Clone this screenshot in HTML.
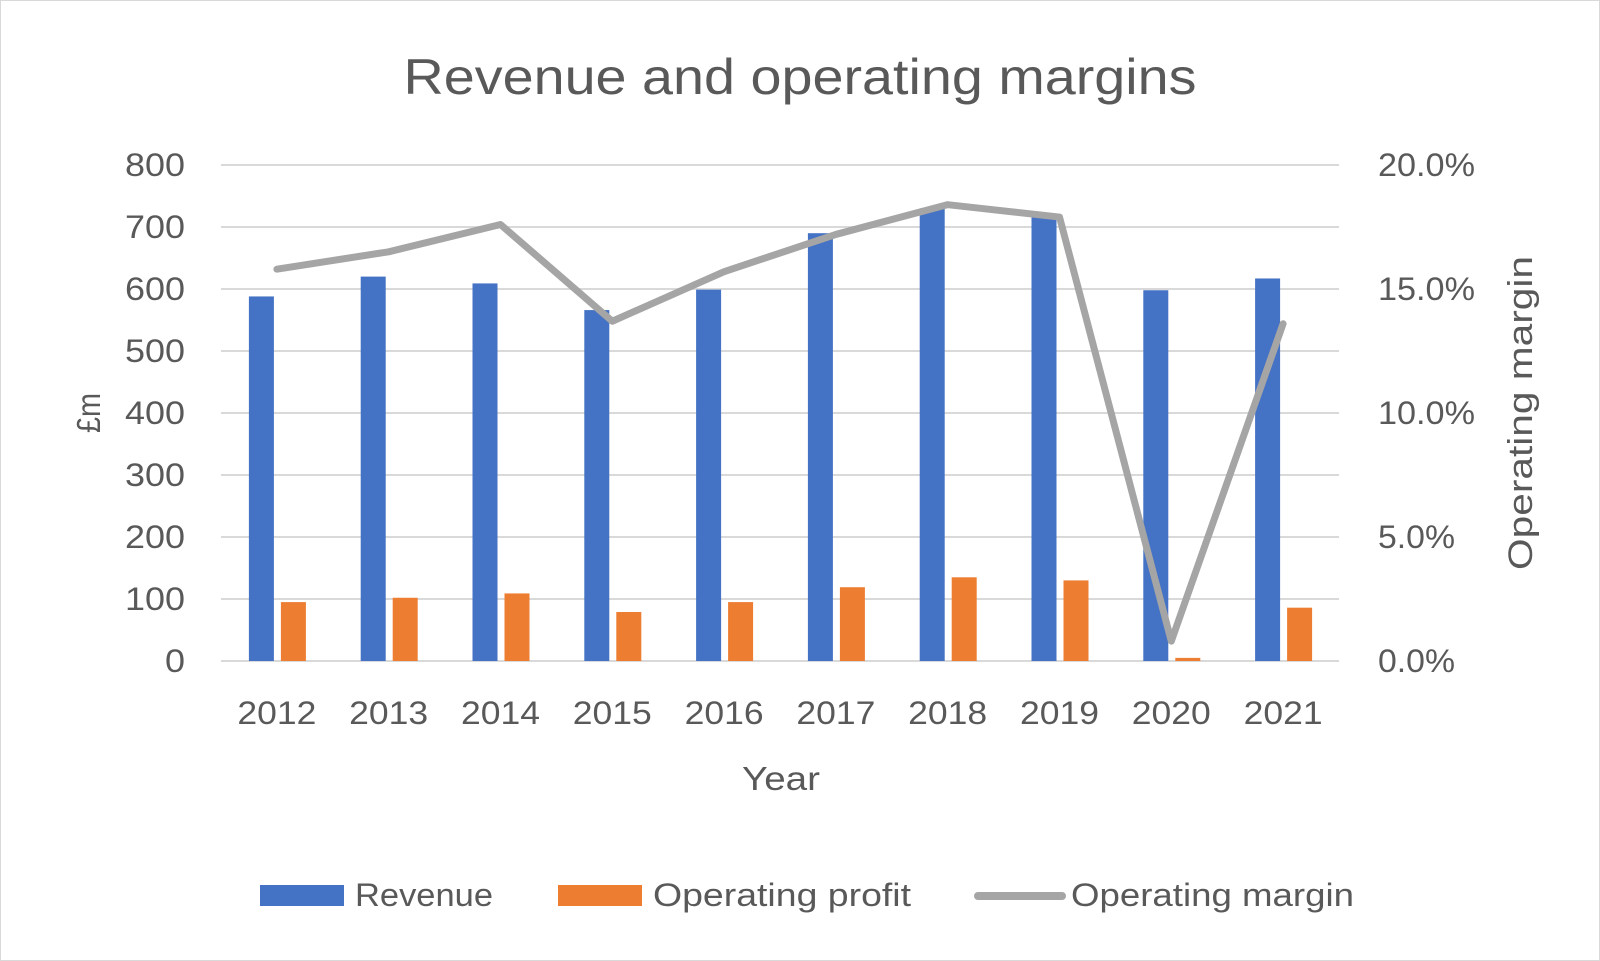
<!DOCTYPE html>
<html><head><meta charset="utf-8"><style>
html,body{margin:0;padding:0;background:#fff;}
svg{display:block;font-family:"Liberation Sans","DejaVu Sans",sans-serif;}
</style></head><body>
<svg id="chart" width="1600" height="961" viewBox="0 0 1600 961">
<rect x="0.5" y="0.5" width="1599" height="960" fill="#fff" stroke="#d9d9d9"/>
<text x="800" y="94" text-anchor="middle" font-size="50" fill="#595959" textLength="793" lengthAdjust="spacingAndGlyphs">Revenue and operating margins</text>
<g id="grid"></g><g id="bars"></g><g id="line"></g><g id="ticks"></g>
<text transform="translate(100,413) rotate(-90)" text-anchor="middle" font-size="33" fill="#595959" textLength="40" lengthAdjust="spacingAndGlyphs">£m</text>
<text transform="translate(1532,413) rotate(-90)" text-anchor="middle" font-size="34" fill="#595959" textLength="314" lengthAdjust="spacingAndGlyphs">Operating margin</text>
<text x="781" y="790" text-anchor="middle" font-size="33" fill="#595959" textLength="78" lengthAdjust="spacingAndGlyphs">Year</text>
<g>
<rect x="260" y="885" width="84" height="21" fill="#4472c4"/>
<text x="355" y="906" font-size="32" fill="#595959" textLength="138" lengthAdjust="spacingAndGlyphs">Revenue</text>
<rect x="558" y="885" width="84" height="21" fill="#ed7d31"/>
<text x="653" y="906" font-size="32" fill="#595959" textLength="258" lengthAdjust="spacingAndGlyphs">Operating profit</text>
<line x1="978" y1="896" x2="1062" y2="896" stroke="#a5a5a5" stroke-width="8" stroke-linecap="round"/>
<text x="1071" y="906" font-size="32" fill="#595959" textLength="283" lengthAdjust="spacingAndGlyphs">Operating margin</text>
</g>
</svg>
<script>
const years=["2012","2013","2014","2015","2016","2017","2018","2019","2020","2021"];
const revenue=[588,620,609,566,599,690,730,718,598,617];
const profit=[95,102,109,79,95,119,135,130,5,86];
const margin=[15.8,16.5,17.6,13.7,15.7,17.2,18.4,17.9,0.8,13.6];
const leftTicks=[0,100,200,300,400,500,600,700,800];
const rightTicks=["0.0%","5.0%","10.0%","15.0%","20.0%"];
const NS="http://www.w3.org/2000/svg";
const X0=221,X1=1339,Y0=661,Y1=165;
const band=(X1-X0)/years.length;
const yL=v=>Y0-(v/800)*(Y0-Y1);
const yR=v=>Y0-(v/20)*(Y0-Y1);
const xC=i=>X0+band*(i+0.5);
function mk(tag,attrs,parent){const e=document.createElementNS(NS,tag);for(const k in attrs)e.setAttribute(k,attrs[k]);document.getElementById(parent).appendChild(e);return e;}
leftTicks.forEach((t,i)=>{
 const g=mk('line',{x1:X0,x2:X1,y1:yL(t),y2:yL(t),stroke:'#d9d9d9','stroke-width':2},'grid');
 
 
 const s=String(t);
 const tx=mk('text',{x:185,y:yL(t)+11,'text-anchor':'end','font-size':32,fill:'#595959',textLength:s.length*20,lengthAdjust:'spacingAndGlyphs'},'ticks');
 tx.textContent=s;
 
 
});
rightTicks.forEach((t,i)=>{
 const tx=mk('text',{x:1378,y:yR(i*5)+11,'font-size':32,fill:'#595959',textLength:t.length===5?97:77,lengthAdjust:'spacingAndGlyphs'},'ticks');
 tx.textContent=t;
 
 
});
years.forEach((y,i)=>{
 const c=xC(i);
 const b=mk('rect',{x:c-28,y:yL(revenue[i]),width:25,height:Y0-yL(revenue[i]),fill:'#4472c4'},'bars');
 
 
 const o=mk('rect',{x:c+4,y:yL(profit[i]),width:25,height:Y0-yL(profit[i]),fill:'#ed7d31'},'bars');
 
 
 const tx=mk('text',{x:c,y:724,'text-anchor':'middle','font-size':32,fill:'#595959',textLength:79,lengthAdjust:'spacingAndGlyphs'},'ticks');
 tx.textContent=y;
 
 
});
const pts=margin.map((m,i)=>xC(i)+','+yR(m)).join(' ');
const pl=mk('polyline',{points:pts,fill:'none',stroke:'#a5a5a5','stroke-width':7,'stroke-linecap':'round','stroke-linejoin':'round'},'line');


</script>
</body></html>
